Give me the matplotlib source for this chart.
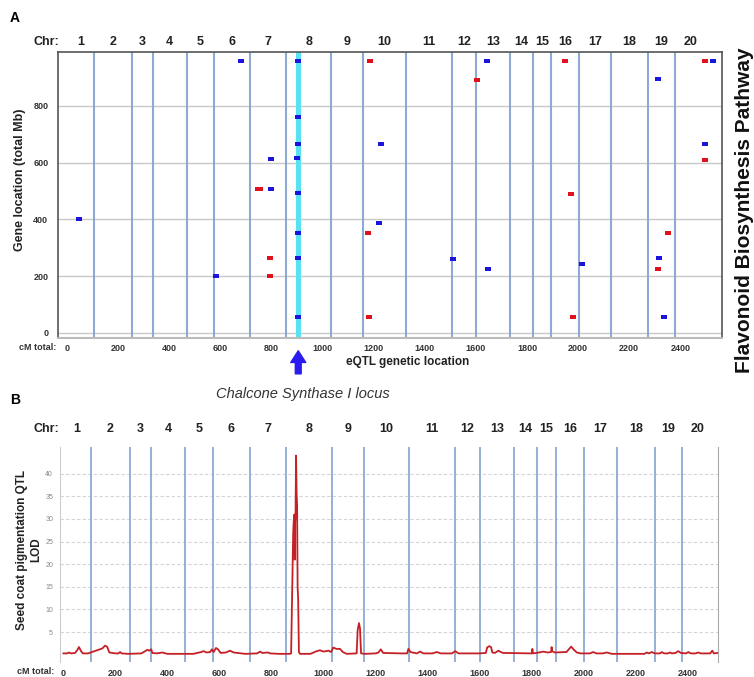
import matplotlib
matplotlib.use('Agg')
from matplotlib import pyplot as plt

plt.rcParams['font.family'] = ['Liberation Sans', 'DejaVu Sans']

# chromosome ends in cM (cumulative)
chr_names = [str(i) for i in range(1, 21)]
chr_bounds = [105, 256, 336, 468, 575, 718, 857, 1035, 1157, 1328, 1508, 1601,
              1734, 1823, 1895, 2003, 2128, 2275, 2379]
chr_end = 2500

# eQTL hits: genetic location (cM) vs gene location (Mb)
blue_cm = [680, 905, 903, 905, 1229, 797, 899, 797, 905, 1645, 2314, 2526, 2497,
           47, 903, 1220, 905, 583, 905, 1512, 1649, 2014, 2317, 2335]
blue_mb = [960, 960, 762, 667, 665, 612, 617, 507, 493, 960, 894, 960, 665,
           401, 353, 389, 263, 200, 57, 260, 224, 243, 263, 57]
red_cm = [1186, 749, 757, 1606, 1950, 2497, 2497, 1974, 1177, 795, 795, 1183,
          2351, 2314, 1979]
red_mb = [960, 507, 507, 890, 960, 960, 609, 491, 353, 263, 200, 57,
          353, 224, 57]
chs_locus = 905

# seed coat pigmentation QTL LOD profile
lod_cm = [0, 15, 20, 30, 45, 52, 60, 68, 75, 95, 110, 130, 150, 160, 168, 177,
          200, 212, 218, 224, 250, 300, 315, 323, 330, 338, 342, 360, 380, 400,
          500, 530, 540, 550, 565, 571, 578, 587, 595, 605, 625, 641, 655, 700,
          745, 757, 765, 787, 795, 830, 870, 876, 880, 884, 887, 889, 890, 891,
          893, 895, 897, 899, 901, 903, 906, 910, 950, 975, 987, 1000, 1020,
          1030, 1038, 1050, 1064, 1075, 1090, 1128, 1132, 1137, 1141, 1145,
          1160, 1200, 1212, 1221, 1230, 1300, 1322, 1327, 1335, 1360, 1372,
          1385, 1420, 1436, 1452, 1495, 1507, 1520, 1600, 1625, 1630, 1638,
          1645, 1650, 1660, 1673, 1690, 1780, 1802, 1804, 1806, 1830, 1846,
          1862, 1876, 1878, 1880, 1890, 1935, 1953, 1962, 1975, 1990, 2025,
          2038, 2050, 2075, 2090, 2110, 2235, 2244, 2252, 2263, 2275, 2295,
          2302, 2310, 2325, 2333, 2341, 2355, 2365, 2375, 2395, 2404, 2413,
          2432, 2442, 2452, 2488, 2496, 2502, 2517]
lod_val = [0.3, 0.3, 0.5, 0.3, 0.4, 0.9, 1.7, 0.8, 0.3, 0.3, 0.6, 1.0, 1.4, 2.0,
           1.8, 0.5, 0.3, 0.3, 0.6, 0.3, 0.2, 0.3, 0.8, 1.1, 0.9, 1.2, 0.4, 0.3,
           0.5, 0.2, 0.2, 0.6, 0.8, 0.5, 0.6, 1.2, 0.6, 1.5, 1.2, 0.4, 0.5, 0.9,
           0.5, 0.2, 0.3, 0.7, 0.4, 0.5, 0.3, 0.2, 0.2, 0.3, 14, 27, 30.5, 31,
           21, 29, 30.8, 44, 36, 33, 15, 12.5, 0.6, 0.2, 0.2, 0.8, 1.0, 0.7,
           0.9, 0.6, 1.6, 1.3, 1.3, 0.6, 0.2, 0.3, 5.5, 7.0, 5.8, 0.3, 0.2,
           0.3, 0.5, 1.2, 0.4, 0.3, 0.3, 1.3, 0.6, 0.3, 0.7, 0.3, 0.3, 0.6,
           0.3, 0.3, 0.8, 0.3, 0.3, 0.4, 1.6, 1.9, 1.7, 0.5, 0.4, 0.9, 0.4,
           0.3, 0.3, 1.3, 0.3, 0.5, 0.7, 0.5, 0.6, 1.7, 0.8, 0.5, 0.6, 1.8,
           1.2, 0.5, 0.3, 0.3, 0.6, 0.3, 0.3, 0.5, 0.2, 0.2, 0.5, 0.3, 0.6,
           0.3, 0.3, 0.6, 0.3, 0.3, 0.5, 0.3, 0.4, 0.8, 0.4, 0.3, 0.6, 0.3,
           0.3, 0.5, 0.3, 0.3, 0.9, 0.3, 0.4]

W, H = 754, 677
fig = plt.figure(figsize=(W / 100, H / 100), dpi=100)
fig.patch.set_facecolor('white')

chr_line = '#8ea9d4'
starts = [0] + chr_bounds
ends = chr_bounds + [chr_end]
mids = [(a + b) / 2 for a, b in zip(starts, ends)]

# ---------------- panel A ----------------
axA = fig.add_axes([58 / W, 1 - 338 / H, 664 / W, 286 / H])
axA.set_xlim(-35, 2563)
axA.set_ylim(-18, 990)
for y in [0, 200, 400, 600, 800]:
    axA.axhline(y, color='#c8c8c8', lw=1, zorder=0)
for b in chr_bounds:
    axA.axvline(b, color=chr_line, lw=1.5, zorder=1)
axA.axvline(chs_locus, color='#58e2f2', lw=3.6, zorder=2)

rect = [(-1.4, -1), (1.4, -1), (1.4, 1), (-1.4, 1), (-1.4, -1)]
axA.scatter(red_cm, red_mb, marker=rect, s=22, color='#e0101c', lw=0, zorder=4)
axA.scatter(blue_cm, blue_mb, marker=rect, s=22, color='#1a14dc', lw=0, zorder=4)

axA.set_xticks(range(0, 2401, 200))
axA.set_yticks(range(0, 801, 200))
axA.tick_params(length=0, labelsize=6.5, colors='#333333')
axA.tick_params(axis='x', pad=4)
axA.tick_params(axis='y', pad=7)
for lab in axA.get_xticklabels() + axA.get_yticklabels():
    lab.set_fontweight('bold')
for s in ['left', 'top', 'right']:
    axA.spines[s].set_color('#555555')
    axA.spines[s].set_linewidth(1.2)
axA.spines['bottom'].set_color('#bbbbbb')
axA.spines['bottom'].set_linewidth(1.5)

for name, m in zip(chr_names, mids):
    axA.text(m, 1.036, name, transform=axA.get_xaxis_transform(),
             ha='center', va='center', fontsize=9, fontweight='bold', color='#222222')
fig.text(46 / W, 1 - 42 / H, 'Chr:', ha='center', va='center',
         fontsize=9, fontweight='bold', color='#222222')
fig.text(56 / W, 1 - 347 / H, 'cM total:', ha='right', va='center',
         fontsize=6.5, fontweight='bold', color='#333333')
fig.text(408 / W, 1 - 362 / H, 'eQTL genetic location', ha='center', va='center',
         fontsize=8.5, fontweight='bold', color='#222222')
fig.text(20 / W, 1 - 180 / H, 'Gene location (total Mb)', ha='center', va='center',
         rotation=90, fontsize=9, fontweight='bold', color='#222222')
fig.text(745 / W, 1 - 210 / H, 'Flavonoid Biosynthesis Pathway', ha='center',
         va='center', rotation=90, fontsize=15, fontweight='bold', color='#111111')
fig.text(15 / W, 1 - 18 / H, 'A', ha='center', va='center', fontsize=10,
         fontweight='bold')

# arrow to the CHS locus
axA.annotate('', xy=(chs_locus, -0.035), xytext=(chs_locus, -0.135),
             xycoords=('data', 'axes fraction'), textcoords=('data', 'axes fraction'),
             arrowprops=dict(arrowstyle='simple,head_width=0.9,head_length=0.7,tail_width=0.35',
                             color='#2a1cf0', mutation_scale=12),
             annotation_clip=False)
fig.text(303 / W, 1 - 394 / H, 'Chalcone Synthase I locus', ha='center', va='center',
         fontsize=10.5, style='italic', color='#333333')

# ---------------- panel B ----------------
axB = fig.add_axes([60 / W, 1 - 662 / H, 658 / W, 215 / H])
axB.set_xlim(-13, 2518)
axB.set_ylim(-1.6, 45.9)
for y in range(5, 41, 5):
    axB.axhline(y, color='#d4d4d4', lw=0.8, ls=(0, (3, 2)), zorder=0)
for b in chr_bounds:
    axB.axvline(b, color=chr_line, lw=1.3, zorder=1)
axB.plot(lod_cm, lod_val, color='#c42026', lw=1.3, zorder=3)

axB.set_xticks(range(0, 2401, 200))
axB.set_yticks(range(5, 41, 5))
axB.tick_params(length=0)
axB.tick_params(axis='x', labelsize=6.5, colors='#333333', pad=5)
axB.tick_params(axis='y', labelsize=5, colors='#888888', pad=5)
for lab in axB.get_xticklabels():
    lab.set_fontweight('bold')
axB.spines['top'].set_visible(False)
axB.spines['bottom'].set_visible(False)
axB.spines['left'].set_color('#cccccc')
axB.spines['right'].set_color('#aaaaaa')

for name, m in zip(chr_names, mids):
    axB.text(m, 1.084, name, transform=axB.get_xaxis_transform(),
             ha='center', va='center', fontsize=9, fontweight='bold', color='#222222')
fig.text(46 / W, 1 - 429 / H, 'Chr:', ha='center', va='center',
         fontsize=9, fontweight='bold', color='#222222')
fig.text(54 / W, 1 - 672 / H, 'cM total:', ha='right', va='center',
         fontsize=6.5, fontweight='bold', color='#333333')
fig.text(29 / W, 1 - 550 / H, 'Seed coat pigmentation QTL\nLOD', ha='center',
         va='center', rotation=90, fontsize=8.5, fontweight='bold', color='#222222',
         linespacing=1.25)
fig.text(15 / W, 1 - 400 / H, 'B', ha='center', va='center', fontsize=10,
         fontweight='bold')

fig.savefig('out.png', dpi=100)
